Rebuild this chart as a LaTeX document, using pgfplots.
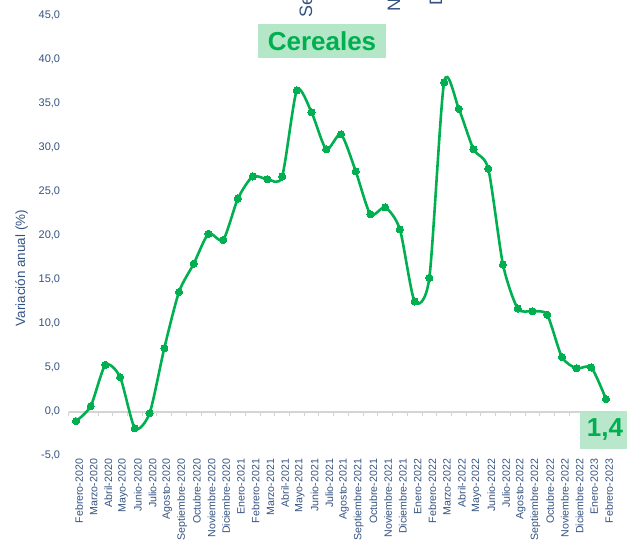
\documentclass[border=0pt]{standalone}
\usepackage{fontspec}
\setmainfont{Liberation Sans}
\usepackage{pgfplots}
\pgfplotsset{compat=1.18}
\definecolor{cgreen}{RGB}{0,176,80}
\definecolor{cbox}{RGB}{180,230,200}
\definecolor{ctext}{RGB}{52,82,128}
\definecolor{caxis}{RGB}{212,212,212}
\begin{document}
\begin{tikzpicture}[x=1pt,y=1pt]
\begin{axis}[
  at={(68.6pt,85.5pt)}, anchor=south west,
  scale only axis, width=544.8pt, height=440pt,
  xmin=-0.5, xmax=36.5, ymin=-5, ymax=45,
  axis line style={draw=none},
  clip=false,
  xtick={0,...,36},
  xticklabels={Febrero-2020,Marzo-2020,Abril-2020,Mayo-2020,Junio-2020,Julio-2020,Agosto-2020,Septiembre-2020,Octubre-2020,Noviembre-2020,Diciembre-2020,Enero-2021,Febrero-2021,Marzo-2021,Abril-2021,Mayo-2021,Junio-2021,Julio-2021,Agosto-2021,Septiembre-2021,Octubre-2021,Noviembre-2021,Diciembre-2021,Enero-2022,Febrero-2022,Marzo-2022,Abril-2022,Mayo-2022,Junio-2022,Julio-2022,Agosto-2022,Septiembre-2022,Octubre-2022,Noviembre-2022,Diciembre-2022,Enero-2023,Febrero-2023},
  xticklabel style={rotate=90, anchor=east, yshift=-3pt, font=\fontsize{10.6}{11}\selectfont, text=ctext},
  xtick style={draw=none},
  ytick={-5,0,...,45},
  ytick style={draw=none},
  yticklabel style={anchor=east, xshift=-5pt, font=\fontsize{11}{11}\selectfont, text=ctext},
  /pgf/number format/.cd, fixed, fixed zerofill, precision=1, use comma, assume math mode=true,
  /pgfplots/.cd,
  ylabel={Variación anual (\%)},
  ylabel style={at={(axis description cs:-0.0865,0.426)}, anchor=center, rotate=0, font=\fontsize{13.4}{14}\selectfont, text=ctext},
  title={Cereales},
  title style={at={(axis description cs:0.4651,0.928)}, anchor=center, fill=cbox, minimum width=128pt, minimum height=34pt, inner sep=0pt, text=cgreen, font=\fontsize{26}{27}\selectfont\bfseries},
]
\draw[caxis, line width=2pt] (-0.5,0) -- (36.5,0);
\pgfplotsinvokeforeach{0,...,37}{\draw[caxis, line width=0.9pt] ({#1-0.5},0) -- ++(0pt,-4pt);}
\addplot[cgreen, line width=2.6pt, smooth, tension=0.42, mark=*, mark size=3.6pt, mark options={fill=cgreen, draw=cgreen, line width=0pt}] coordinates {
(0,-1.1) (1,0.6) (2,5.3) (3,3.9) (4,-1.9) (5,-0.2) (6,7.2) (7,13.6) (8,16.8) (9,20.2)
(10,19.5) (11,24.2) (12,26.7) (13,26.4) (14,26.7) (15,36.5) (16,34.0) (17,29.8) (18,31.5) (19,27.3)
(20,22.4) (21,23.2) (22,20.7) (23,12.5) (24,15.2) (25,37.4) (26,34.4) (27,29.8) (28,27.6) (29,16.7)
(30,11.7) (31,11.4) (32,11.0) (33,6.2) (34,4.9) (35,5.0) (36,1.4)
};
\node[fill=cbox, fill opacity=0.95, text opacity=1, minimum width=50pt, minimum height=38pt, inner sep=0pt, text=cgreen, font=\fontsize{26}{27}\selectfont\bfseries] at ([xshift=-1pt,yshift=-30.5pt]axis cs:36,1.4) {1,4};
\end{axis}
\begin{scope}[every node/.style={rotate=90, anchor=base west, inner sep=0pt, text=ctext, font=\fontsize{18}{19}\selectfont}]
\node at (312,523) {Se};
\node at (400,529) {N};
\node at (442,535) {D};
\end{scope}
\pgfresetboundingbox
\useasboundingbox (0,0) rectangle (627,541);
\end{tikzpicture}
\end{document}
